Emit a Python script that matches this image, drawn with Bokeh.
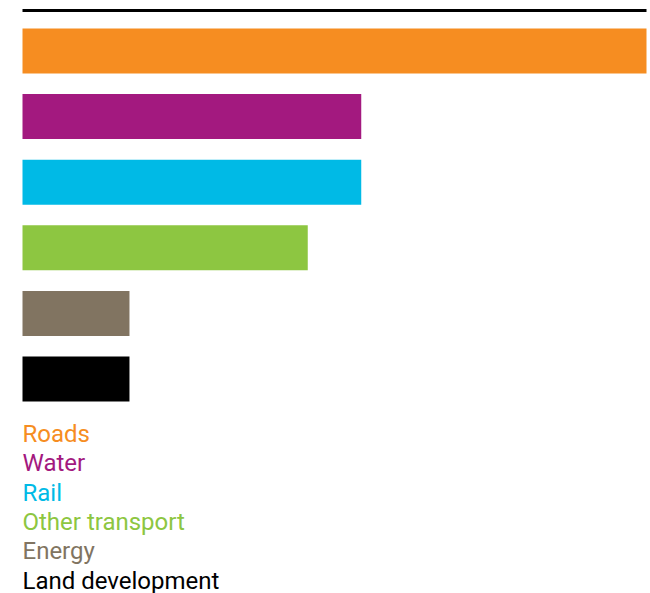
from bokeh.plotting import figure
from bokeh.models import Range1d, ColumnDataSource
from bokeh.core.properties import value
from bokeh.embed import file_html
from bokeh.resources import INLINE

categories = ["Roads", "Water", "Rail", "Other transport", "Energy", "Land development"]
values = [35, 19, 19, 16, 6, 6]
colors = ["#F68D21", "#A3197F", "#00BAE6", "#8DC641", "#817461", "#000000"]

W, H = 650, 593
# pixel geometry -> data ranges
px_per_unit_x = 624 / max(values)
x0 = -22 / px_per_unit_x
x1 = max(values) + 4 / px_per_unit_x
step = 65.6
first = 50.5
y_top = -first / step
y_bot = (H - first) / step

p = figure(width=W, height=H, output_backend="svg", toolbar_location=None,
           x_range=Range1d(x0, x1), y_range=Range1d(y_bot, y_top),
           min_border=0, min_border_left=0, min_border_right=0,
           min_border_top=0, min_border_bottom=0)
p.axis.visible = False
p.grid.visible = False
p.outline_line_color = None
p.background_fill_color = "white"

idx = list(range(len(categories)))
src = ColumnDataSource(dict(y=idx, right=values, color=colors, cat=categories))
p.hbar(y="y", left=0, right="right", height=45 / step, color="color", source=src, line_color=None)

# top rule
p.segment(x0=[0], x1=[max(values)], y0=[(10 - first) / step], y1=[(10 - first) / step],
          line_color="black", line_width=3)

# legend text
leg_y = [(433.5 - first) / step + i * 29.3 / step for i in idx]
lsrc = ColumnDataSource(dict(x=[0] * len(idx), y=leg_y, text=categories, color=colors))
p.text(x="x", y="y", text="text", text_color="color", source=lsrc,
       text_font=value("Roboto"), text_font_size="24px", text_baseline="middle",
       text_align="left")

open("out.html", "w").write(file_html(p, INLINE))
